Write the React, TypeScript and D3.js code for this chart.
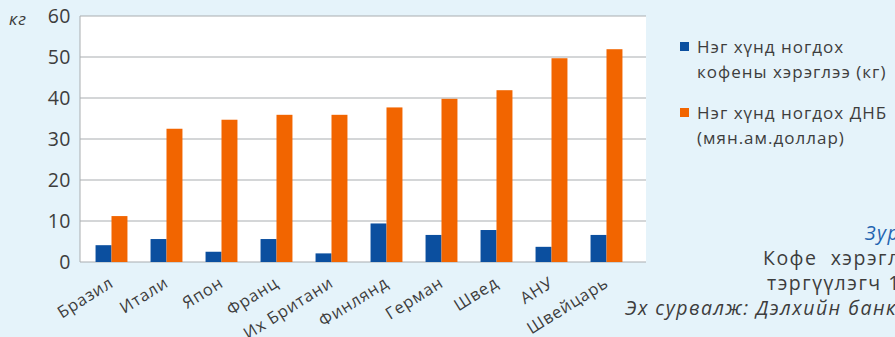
import { useEffect } from "react";
import * as d3 from "d3";

const countries = [
  "Бразил",
  "Итали",
  "Япон",
  "Франц",
  "Их Британи",
  "Финлянд",
  "Герман",
  "Швед",
  "АНУ",
  "Швейцарь",
];
// кофены хэрэглээ (кг)
const coffee = [4.1, 5.6, 2.5, 5.6, 2.1, 9.4, 6.6, 7.8, 3.7, 6.6];
// ДНБ (мян.ам.доллар)
const gdp = [11.2, 32.5, 34.7, 35.9, 35.9, 37.7, 39.8, 41.9, 49.7, 51.9];
const yTicks = [0, 10, 20, 30, 40, 50, 60];
const seriesNames = [
  ["Нэг хүнд ногдох", "кофены хэрэглээ (кг)"],
  ["Нэг хүнд ногдох ДНБ", "(мян.ам.доллар)"],
];
const captionLines = [
  "Зураг",
  "Кофе  хэрэглээгээр",
  "тэргүүлэгч 10",
  "Эх сурвалж: Дэлхийн банк",
];

const W = 895;
const H = 337;
const BLUE = "#0b4f9f";
const ORANGE = "#f26500";
const TEXT = "#3d3d3d";
const FONT = "'Open Sans', 'Noto Sans', sans-serif";

export default function App() {
  useEffect(() => {
    document.body.style.margin = "0";
    document.body.style.overflow = "hidden";
  }, []);

  const plot = { left: 80, right: 646, top: 16, bottom: 262 };

  const x = d3
    .scaleBand<string>()
    .domain(countries)
    .range([84, 634])
    .paddingInner(0.42)
    .paddingOuter(0.21);
  const sub = d3
    .scaleBand<string>()
    .domain(["coffee", "gdp"])
    .range([0, x.bandwidth()]);
  const y = d3
    .scaleLinear()
    .domain([0, 60])
    .range([plot.bottom, plot.top]);

  return (
    <svg
      width={W}
      height={H}
      style={{ position: "absolute", left: 0, top: 0, fontFamily: FONT }}
    >
      <rect width={W} height={H} fill="#e5f3fa" />
      <rect
        x={plot.left}
        y={plot.top}
        width={plot.right - plot.left}
        height={plot.bottom - plot.top}
        fill="#ffffff"
      />
      {/* сүлжээ шугам */}
      {yTicks.map((t) => (
        <g key={t}>
          <line
            x1={plot.left}
            x2={plot.right}
            y1={y(t)}
            y2={y(t)}
            stroke="#a9adb0"
            strokeWidth={1}
          />
          <text
            x={71}
            y={y(t)}
            dy="0.36em"
            textAnchor="end"
            fontSize={19.5}
            letterSpacing={0.5}
            fill={TEXT}
          >
            {t}
          </text>
        </g>
      ))}
      <line
        x1={plot.left}
        x2={plot.left}
        y1={plot.top}
        y2={plot.bottom}
        stroke="#a9adb0"
      />
      <text x={9} y={25} fontSize={17} fontStyle="italic" letterSpacing={1} fill={TEXT}>
        кг
      </text>

      {countries.map((c, i) => (
        <g key={c} transform={`translate(${x(c)},0)`}>
          <rect
            x={sub("coffee")}
            y={y(coffee[i])}
            width={sub.bandwidth()}
            height={y(0) - y(coffee[i])}
            fill={BLUE}
          />
          <rect
            x={sub("gdp")}
            y={y(gdp[i])}
            width={sub.bandwidth()}
            height={y(0) - y(gdp[i])}
            fill={ORANGE}
          />
          <text
            transform={`translate(${x.bandwidth() / 2 - 3},${plot.bottom + 14}) rotate(-32)`}
            textAnchor="end"
            dy="0.7em"
            fontSize={16.5}
            letterSpacing={0.8}
            fill={TEXT}
          >
            {c}
          </text>
        </g>
      ))}

      {/* тайлбар */}
      {seriesNames.map((lines, i) => (
        <g key={i} transform={`translate(680,${42 + i * 66})`}>
          <rect width={9} height={9} fill={i === 0 ? BLUE : ORANGE} />
          {lines.map((l, j) => (
            <text
              key={j}
              x={17}
              y={11 + j * 25}
              fontSize={17}
              letterSpacing={1}
              fill={TEXT}
            >
              {l}
            </text>
          ))}
        </g>
      ))}

      <g fontSize={19.5} letterSpacing={1.5}>
        <text x={865} y={240} fontStyle="italic" fill="#1f63b0">
          {captionLines[0]}
        </text>
        <text x={763} y={265} fill={TEXT} style={{ whiteSpace: "pre" }}>
          {captionLines[1]}
        </text>
        <text x={767} y={290} fill={TEXT}>
          {captionLines[2]}
        </text>
        <text x={625} y={315} fontStyle="italic" fill={TEXT}>
          {captionLines[3]}
        </text>
      </g>
    </svg>
  );
}
